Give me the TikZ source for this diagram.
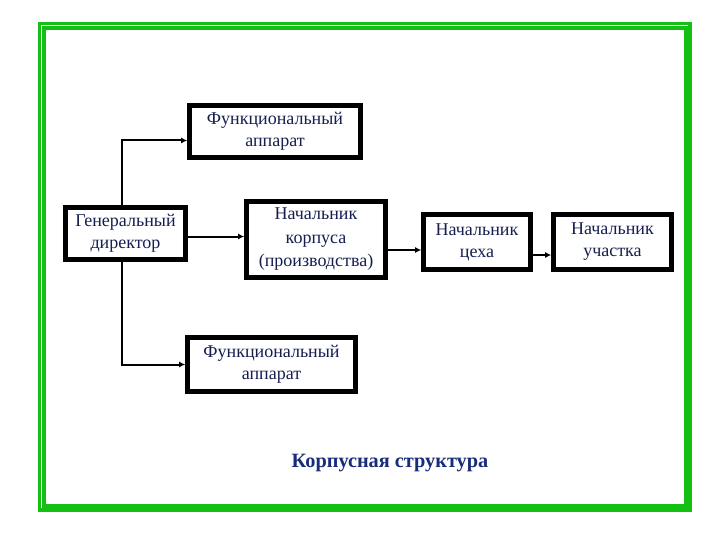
\documentclass[tikz,border=0pt]{standalone}
\usepackage{fontspec}
\setmainfont{Liberation Serif}
\usepackage{tikz}
\usetikzlibrary{arrows.meta,positioning,calc}
\usepackage{xcolor}
\definecolor{framegreen}{RGB}{20,192,20}
\definecolor{txtnavy}{RGB}{22,30,80}
\definecolor{ttlnavy}{RGB}{24,44,122}

\begin{document}
\begin{tikzpicture}[
  x=1pt, y=-1pt,
  unit/.style={draw, fill=white, line width=4.6pt, align=center, inner sep=1pt,
    font=\fontsize{18}{22}\selectfont, text=txtnavy,
    preaction={draw, line width=7.4pt},
    preaction={draw=white, line width=6.2pt}},
  arr/.style={-{Latex[length=6pt,width=6pt]}, line width=2pt},
  ttl/.style={font=\fontsize{20.3}{24}\selectfont\bfseries, text=ttlnavy},
]
\useasboundingbox (0,0) rectangle (720,540);

% ─── Green frame ───
\draw[framegreen, line width=7.5pt] (42,26) rectangle (688,508);
\draw[white, line width=0.9pt] (41.5,508) -- (41.5,25.5) -- (688,25.5);

% ─── Units ───
\node[unit, minimum width=171, minimum height=52] (fa1) at (275,131.5) {Функциональный\\аппарат};
\node[unit, minimum width=120, minimum height=52] (gd) at (125.5,233.5) {Генеральный\\директор};
\node[unit, minimum width=139, minimum height=76, font=\fontsize{18}{23.5}\selectfont] (nk) at (316,239.5) {Начальник\\корпуса\\(производства)};
\node[unit, minimum width=107, minimum height=55] (nc) at (477,242) {Начальник\\цеха};
\node[unit, minimum width=118, minimum height=55] (nu) at (612.5,242) {Начальник\\участка};
\node[unit, minimum width=168, minimum height=54] (fa2) at (271.5,364.5) {Функциональный\\аппарат};

% ─── Title ───
\node[ttl] (title) at (390,463) {Корпусная структура};

% ─── Links ───
\draw[arr] ([xshift=-3.5pt]gd.north) |- ([yshift=-9pt]fa1.west);
\draw[arr] ([xshift=-3.5pt]gd.south) |- (fa2.west);
\draw[arr] ([yshift=-3pt]gd.east) -- ([yshift=-3pt]gd.east -| nk.west);
\draw[arr] ([yshift=-10.5pt]nk.east) -- ([yshift=-10.5pt]nk.east -| nc.west);
\draw[arr] ([yshift=-13pt]nc.east) -- ([yshift=-13pt]nc.east -| nu.west);

\end{tikzpicture}
\end{document}
